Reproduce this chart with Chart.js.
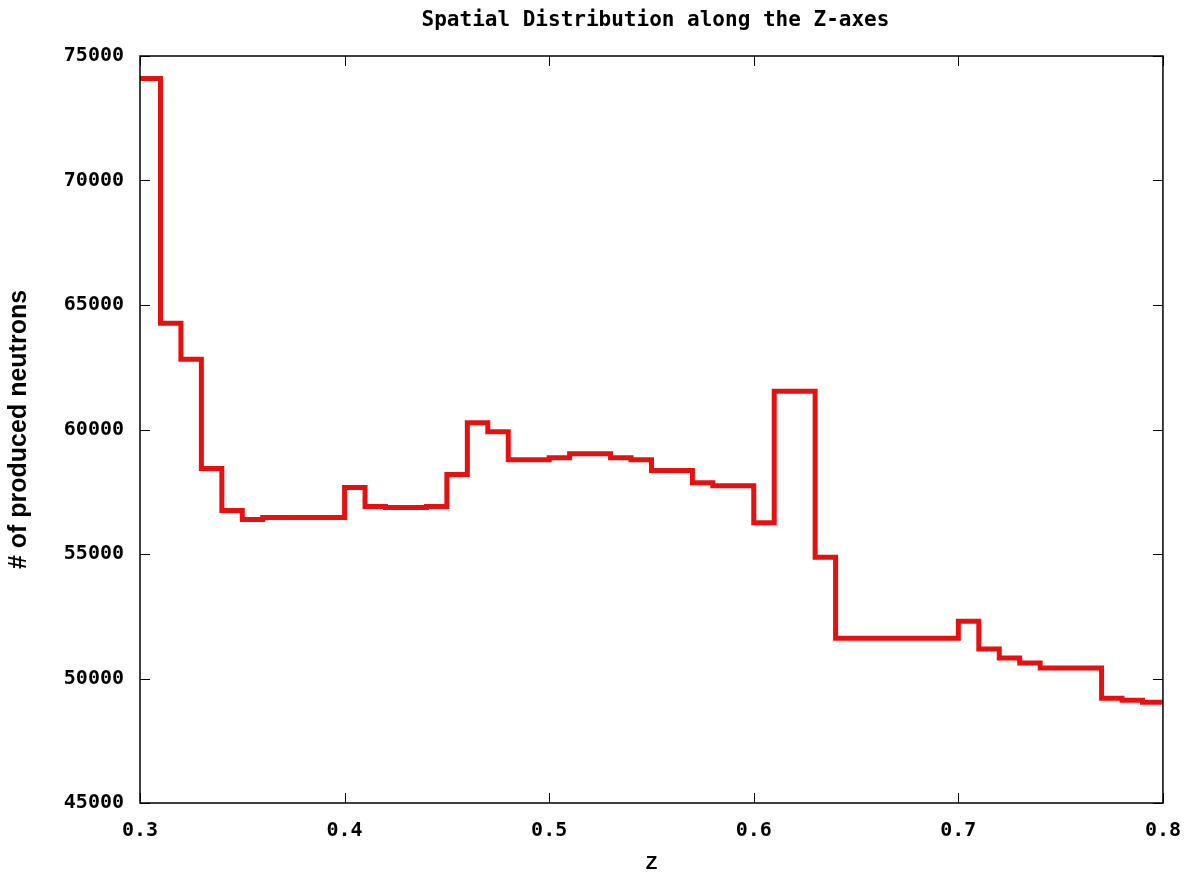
<!DOCTYPE html>
<html>
<head>
<meta charset="utf-8">
<script src="https://cdn.jsdelivr.net/npm/chart.js@4/dist/chart.umd.min.js"></script>
<style>
  html, body { margin: 0; padding: 0; background: #fff; }
  #wrap { width: 1197px; height: 879px; }
</style>
</head>
<body>
<div id="wrap"><canvas id="zChart" width="1197" height="879"></canvas></div>
<script>
// ---------- DATA ----------
// left edge of each 0.01 bin along Z
const zBinStart = [
  0.30, 0.31, 0.32, 0.33, 0.34, 0.35, 0.36, 0.37, 0.38, 0.39,
  0.40, 0.41, 0.42, 0.43, 0.44, 0.45, 0.46, 0.47, 0.48, 0.49,
  0.50, 0.51, 0.52, 0.53, 0.54, 0.55, 0.56, 0.57, 0.58, 0.59,
  0.60, 0.61, 0.62, 0.63, 0.64, 0.65, 0.66, 0.67, 0.68, 0.69,
  0.70, 0.71, 0.72, 0.73, 0.74, 0.75, 0.76, 0.77, 0.78, 0.79
];
const zEnd = 0.80;

// # of produced neutrons per bin
const neutrons = [
  74100, 64270, 62820, 58430, 56750, 56390, 56470, 56470, 56470, 56470,
  57670, 56910, 56870, 56870, 56910, 58190, 60270, 59910, 58790, 58790,
  58870, 59030, 59030, 58870, 58790, 58350, 58350, 57860, 57740, 57740,
  56260, 61540, 61540, 54870, 51620, 51620, 51620, 51620, 51620, 51620,
  52300, 51180, 50820, 50620, 50420, 50420, 50420, 49210, 49130, 49050
];

const xTicks = [0.3, 0.4, 0.5, 0.6, 0.7, 0.8];
const yTicks = [45000, 50000, 55000, 60000, 65000, 70000, 75000];

const titleText = "Spatial Distribution along the Z-axes";
const xTitle = "Z";
const yTitle = "# of produced neutrons";

// ---------- BUILD ----------
const points = zBinStart.map((z, i) => ({ x: z, y: neutrons[i] }));
points.push({ x: zEnd, y: neutrons[neutrons.length - 1] });

const MONO = "'DejaVu Sans Mono', monospace";
const SANS = "'Liberation Sans', Arial, sans-serif";

// gnuplot style frame with inward ticks on all four sides + title over the plot
const frameTicks = {
  id: "frameTicks",
  afterDatasetsDraw(chart) {
    const { ctx, chartArea: a, scales } = chart;
    const len = 10;
    ctx.save();
    ctx.strokeStyle = "#000";
    ctx.lineWidth = 1;
    ctx.beginPath();
    yTicks.forEach(v => {
      const y = Math.round(scales.y.getPixelForValue(v)) + 0.5;
      ctx.moveTo(a.left, y); ctx.lineTo(a.left + len, y);
      ctx.moveTo(a.right, y); ctx.lineTo(a.right - len, y);
    });
    xTicks.forEach(v => {
      const x = Math.round(scales.x.getPixelForValue(v)) + 0.5;
      ctx.moveTo(x, a.bottom); ctx.lineTo(x, a.bottom - len);
      ctx.moveTo(x, a.top); ctx.lineTo(x, a.top + len);
    });
    ctx.stroke();
    ctx.lineWidth = 1.5;
    ctx.strokeRect(a.left, a.top, a.right - a.left, a.bottom - a.top);

    // title
    ctx.fillStyle = "#000";
    ctx.font = "bold 21px " + MONO;
    ctx.textAlign = "center";
    ctx.textBaseline = "middle";
    ctx.fillText(titleText, (a.left + a.right) / 2 + 4, 21);
    ctx.restore();
  }
};

new Chart(document.getElementById("zChart").getContext("2d"), {
  type: "line",
  data: {
    datasets: [{
      data: points,
      stepped: true,
      borderColor: "#e5100f",
      borderWidth: 5,
      pointRadius: 0,
      fill: false,
      borderJoinStyle: "miter",
      clip: 4
    }]
  },
  options: {
    responsive: false,
    animation: false,
    layout: { padding: { left: 0, right: 34, top: 56, bottom: 0 } },
    plugins: {
      legend: { display: false },
      tooltip: { enabled: false },
      title: { display: false }
    },
    scales: {
      x: {
        type: "linear",
        min: 0.3,
        max: 0.8,
        afterBuildTicks: s => { s.ticks = xTicks.map(v => ({ value: v })); },
        afterFit: s => { s.height = 76; },
        grid: { display: false, drawTicks: false },
        border: { display: false },
        ticks: {
          color: "#000",
          padding: 16,
          maxRotation: 0,
          font: { family: MONO, size: 20, weight: "bold" },
          callback: v => v.toFixed(1)
        },
        title: {
          display: true,
          text: xTitle,
          color: "#000",
          font: { family: SANS, size: 19, weight: "bold" },
          padding: { top: 8 }
        }
      },
      y: {
        min: 45000,
        max: 75000,
        afterBuildTicks: s => { s.ticks = yTicks.map(v => ({ value: v })); },
        afterFit: s => { s.width = 140; },
        grid: { display: false, drawTicks: false },
        border: { display: false },
        ticks: {
          color: "#000",
          padding: 16,
          font: { family: MONO, size: 20, weight: "bold" },
          callback: v => String(v)
        },
        title: {
          display: true,
          text: yTitle,
          color: "#000",
          font: { family: SANS, size: 25, weight: "bold" },
          padding: { top: 4, bottom: 0 }
        }
      }
    }
  },
  plugins: [frameTicks]
});
</script>
</body>
</html>
